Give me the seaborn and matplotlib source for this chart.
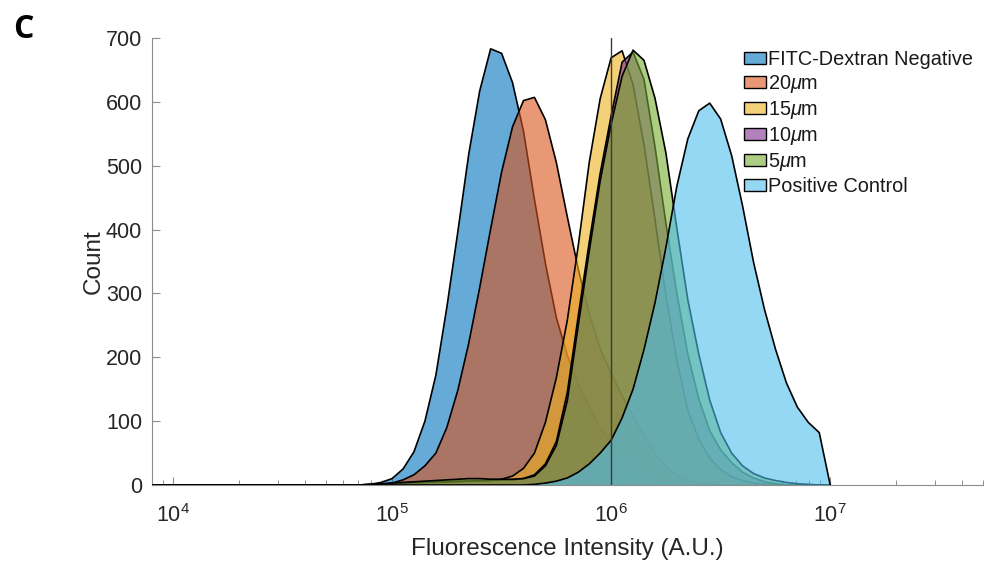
import numpy as np
import matplotlib
matplotlib.use("Agg")
import matplotlib.pyplot as plt
from matplotlib.patches import Patch
from matplotlib.ticker import LogLocator, NullFormatter
import seaborn as sns

# Shared log10 bin centres of the flow-cytometry histograms (0.05 decade bins)
BIN_STEP = 0.05
log_bins = np.round(np.arange(3.90, 7.0001, BIN_STEP), 2)

series_names = ["FITC-Dextran Negative", "20$\\mu$m", "15$\\mu$m",
                "10$\\mu$m", "5$\\mu$m", "Positive Control"]
series_colors = [(0.000, 0.447, 0.741), (0.850, 0.325, 0.098),
                 (0.929, 0.694, 0.125), (0.494, 0.184, 0.556),
                 (0.466, 0.674, 0.188), (0.301, 0.745, 0.933)]

# Each histogram: log10 of its first listed bin, then the counts from there on
neg_start = 4.80
neg_counts = [0, 0, 1, 4, 10, 25, 52, 100, 172, 278, 396, 518, 617, 683, 676,
              630, 554, 447, 347, 262, 203, 158, 122, 90, 68, 48, 32, 20, 12,
              6, 3, 1, 0]

um20_start = 4.85
um20_counts = [0, 1, 1, 3, 8, 16, 30, 50, 90, 148, 222, 309, 401, 490, 561,
               602, 607, 572, 505, 420, 338, 268, 214, 175, 140, 108, 78, 50,
               28, 15, 7, 3, 1, 0]

um15_start = 4.90
um15_counts = [0, 1, 2, 3, 3, 4, 4, 5, 5, 6, 6, 7, 9, 14, 26, 50, 98, 168,
               258, 375, 505, 605, 669, 680, 627, 533, 416, 297, 195, 117, 72,
               42, 24, 13, 7, 3, 1, 0]

um10_start = 4.90
um10_counts = [0, 1, 2, 3, 4, 4, 5, 5, 6, 6, 7, 7, 8, 8, 10, 16, 33, 68, 145,
               265, 380, 488, 578, 662, 678, 635, 530, 410, 300, 205, 135, 85,
               55, 35, 20, 11, 5, 2, 0]

um5_start = 4.85
um5_counts = [0, 1, 2, 3, 4, 5, 6, 7, 8, 9, 10, 10, 9, 9, 9, 10, 14, 30, 62,
              132, 250, 366, 476, 565, 640, 681, 665, 606, 520, 402, 290, 205,
              133, 82, 50, 30, 18, 11, 7, 4, 2, 1, 0]

pos_start = 5.60
pos_counts = [0, 1, 3, 6, 11, 20, 33, 50, 70, 105, 150, 212, 285, 372, 468,
              542, 586, 598, 573, 516, 437, 349, 275, 213, 160, 122, 98, 82, 0]

series_starts = [neg_start, um20_start, um15_start, um10_start, um5_start, pos_start]
series_counts = [neg_counts, um20_counts, um15_counts, um10_counts, um5_counts, pos_counts]

y_ticks = [0, 100, 200, 300, 400, 500, 600, 700]
x_major = [1e4, 1e5, 1e6, 1e7]
gate_value = 1e6


def on_grid(start, counts):
    """Place a histogram's listed counts on the shared bin grid (empty elsewhere)."""
    full = np.zeros(len(log_bins))
    i0 = int(round((start - log_bins[0]) / BIN_STEP))
    full[i0:i0 + len(counts)] = counts
    return full


sns.set_theme(style="white")
plt.rcParams["font.family"] = ["Liberation Sans", "DejaVu Sans"]
plt.rcParams["mathtext.fontset"] = "custom"
plt.rcParams["mathtext.rm"] = "Liberation Sans"
plt.rcParams["mathtext.it"] = "Liberation Sans:italic"

fig = plt.figure(figsize=(9.86, 5.61), dpi=100)
ax = fig.add_axes([0.1539, 0.1355, 0.8434, 0.7968])
ax.set_xscale("log")

x = 10.0 ** log_bins
for i, (start, counts, color) in enumerate(zip(series_starts, series_counts, series_colors)):
    y = on_grid(start, counts)
    ax.fill_between(x, y, 0, facecolor=(*color, 0.6), edgecolor="none",
                    linewidth=0, zorder=2 + 2 * i)
    sns.lineplot(x=x, y=y, ax=ax, color="black", linewidth=1.2,
                 estimator=None, sort=False, zorder=3 + 2 * i)
for line in ax.lines:
    line.set_solid_joinstyle("round")

ax.axvline(gate_value, color="#3a3a3a", linewidth=1.0, zorder=30)

ax.set_xlim(8e3, 5e7)
ax.set_ylim(0, 700)
ax.set_yticks(y_ticks)
ax.set_xticks(x_major)
ax.xaxis.set_minor_locator(LogLocator(base=10, subs=np.arange(2, 10)))
ax.xaxis.set_minor_formatter(NullFormatter())

for side in ("top", "right"):
    ax.spines[side].set_visible(False)
for side in ("left", "bottom"):
    ax.spines[side].set_color("#8c8c8c")
    ax.spines[side].set_linewidth(0.8)
    ax.spines[side].set_zorder(1)

ax.tick_params(axis="both", which="both", bottom=True, left=True, top=False, right=False)
ax.tick_params(axis="y", which="major", direction="in", length=6, width=0.8,
               color="#8c8c8c", labelsize=15.5, labelcolor="#262626", pad=7)
ax.tick_params(axis="x", which="major", direction="in", length=6, width=0.8,
               color="#8c8c8c", labelsize=15.5, labelcolor="#262626", pad=14)
ax.tick_params(axis="x", which="minor", direction="in", length=3.5, width=0.7,
               color="#8c8c8c")

ax.set_xlabel("Fluorescence Intensity (A.U.)", fontsize=17.5, color="#262626", labelpad=8)
ax.set_ylabel("Count", fontsize=17.5, color="#262626", labelpad=1)

handles = [Patch(facecolor=(*c, 0.6), edgecolor="black", linewidth=1.0)
           for c in series_colors]
leg = ax.legend(handles, series_names, loc="upper left",
                bbox_to_anchor=(744 / 986, 1 - 50 / 561), bbox_transform=fig.transFigure,
                frameon=False, fontsize=14.3, handlelength=1.11, handleheight=0.56,
                handletextpad=0.12, labelspacing=0.2, borderpad=0, borderaxespad=0)
for t in leg.get_texts():
    t.set_color("#1a1a1a")

fig.text(13 / 986, 1 - 38 / 561, "C", fontsize=23, fontweight="bold",
         family=["Open Sans", "DejaVu Sans"], ha="left", va="baseline", color="black")

fig.savefig("out.png", dpi=100)
